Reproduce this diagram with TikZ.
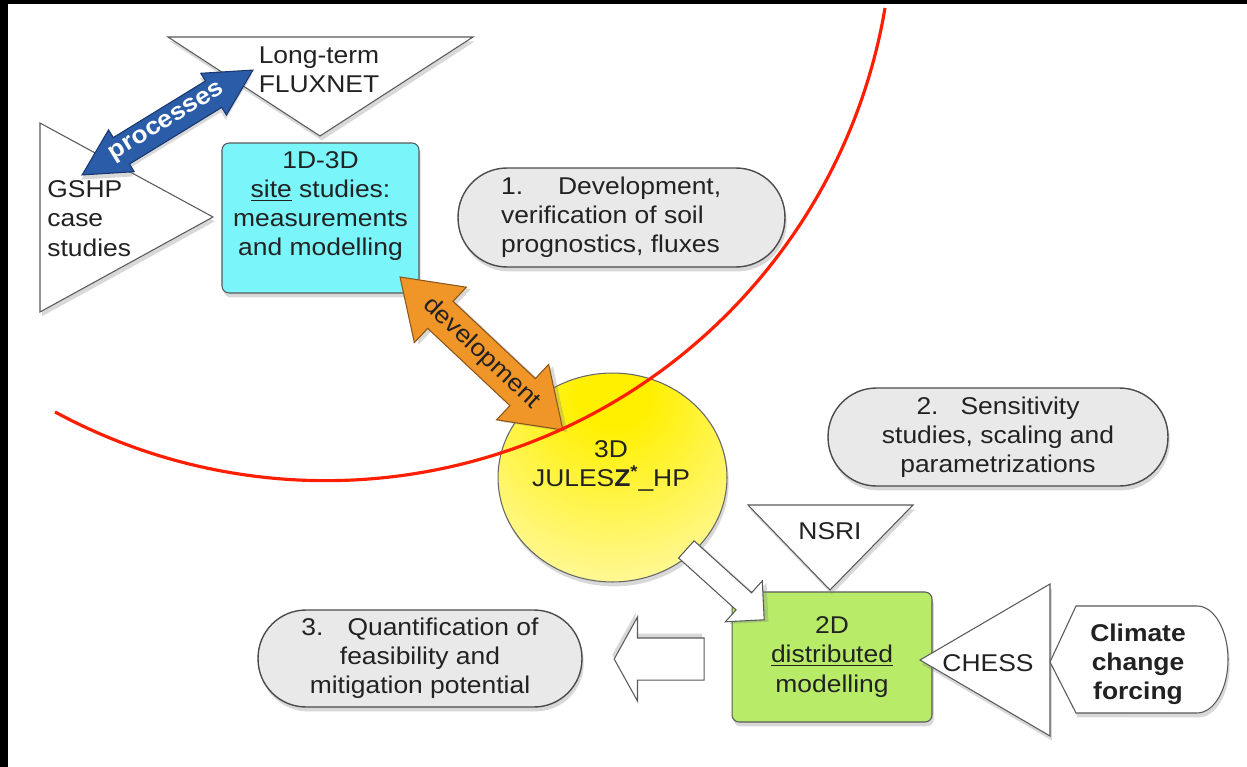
\documentclass[tikz,border=0pt]{standalone}
\usepackage{fontspec}
\setmainfont{Liberation Sans}[FakeStretch=1.09]
\usetikzlibrary{calc, shapes.geometric, shapes.arrows, shadows}
\definecolor{sitecyan}{RGB}{122,245,250}
\definecolor{distgreen}{RGB}{184,236,104}
\definecolor{pillgray}{RGB}{233,233,233}
\definecolor{devorange}{RGB}{240,150,40}
\definecolor{devedge}{RGB}{140,85,25}
\definecolor{procblue}{RGB}{42,92,168}
\definecolor{procedge}{RGB}{25,55,110}
\definecolor{arcred}{RGB}{255,30,0}
\definecolor{inktext}{RGB}{34,34,34}
\definecolor{julesin}{RGB}{255,240,0}
\definecolor{julesout}{RGB}{255,251,195}
\pgfdeclareradialshading{julesglow}{\pgfpoint{0bp}{22bp}}{color(0bp)=(julesin); color(8bp)=(julesin); color(48bp)=(julesout); color(100bp)=(julesout)}
\tikzset{
  txt/.style={text=inktext, font=\fontsize{13.8}{16.6}\selectfont, inner sep=0pt},
  softshadow/.style={drop shadow={shadow xshift=1pt, shadow yshift=-2.5pt, opacity=0.3}},
  tri/.style={draw=black!65, line width=0.6pt, fill=white, softshadow},
  box/.style={rectangle, draw=black!65, line width=0.6pt, rounded corners=4pt, softshadow},
  pill/.style={rectangle, draw=black!70, line width=0.8pt, fill=pillgray, align=center, txt, softshadow},
  blockarrow/.style={draw=black!65, line width=0.6pt, fill=white, inner xsep=0pt, text height=0pt, text depth=0pt, minimum width=0pt},
  procarrow/.style={double arrow, blockarrow, fill=procblue, draw=procedge, inner ysep=0.3cm, double arrow head extend=0.18cm, double arrow tip angle=56, minimum height=4.01cm, rotate=31.55, drop shadow={shadow xshift=-0.46pt, shadow yshift=-2.65pt, opacity=0.3}},
  devarrow/.style={double arrow, blockarrow, fill=devorange, draw=devedge, inner ysep=0.36cm, double arrow head extend=0.39cm, double arrow tip angle=69, minimum height=4.47cm, rotate=-43.2, drop shadow={shadow xshift=2.44pt, shadow yshift=-1.14pt, opacity=0.3}},
  feedarrow/.style={single arrow, blockarrow, inner ysep=0.22cm, single arrow head extend=0.32cm, single arrow tip angle=90, minimum height=2.1cm, rotate=-42.1, drop shadow={shadow xshift=2.42pt, shadow yshift=-1.18pt, opacity=0.3}},
  outarrow/.style={single arrow, blockarrow, inner ysep=0.41cm, single arrow head extend=0.42cm, single arrow tip angle=122, minimum height=1.8cm, rotate=180, drop shadow={shadow xshift=-1pt, shadow yshift=2.5pt, opacity=0.3}},
  arcline/.style={draw=arcred, line width=1.8pt}
}

\begin{document}
\begin{tikzpicture}[x=0.02cm, y=-0.02cm]
\useasboundingbox (0,0) rectangle (1247,767);
\fill[white] (0,0) rectangle (1247,767);
\fill[black] (0,0) rectangle (1247,4.5);
\fill[black] (0,0) rectangle (8,767);

% data sources round the site studies
\path[tri] (168,37) -- (473,37) -- (320,136) -- cycle;
\node[txt, align=center] (fluxtext) at (319,70) {Long-term\\FLUXNET};
\path[tri] (40,123) -- (213,217) -- (40,312) -- cycle;
\node[txt, align=left, anchor=west] (gshptext) at (47,218.5) {GSHP\\case\\studies};

\coordinate (proctail) at (82,175);
\coordinate (prochead) at (253,70);
\node[procarrow] (proc) at ($(proctail)!0.5!(prochead)$) {};
\node[txt, text=white, font=\fontsize{13.8}{16.6}\selectfont\bfseries, rotate=31.55] (proclabel) at (proc) {processes};

\node[box, fill=sitecyan, minimum width=3.94cm, minimum height=3cm] (site) at (320.5,218) {};
\node[txt, align=center] (sitetext) at (320.5,206) {1D-3D\\\underline{site} studies:\\measurements\\and modelling};

% the three stages
\node[pill, align=left, minimum width=6.54cm, minimum height=1.98cm, rounded corners=0.98cm] (stage1) at (621.5,217.5) {1.\hspace{0.7cm}Development,\\verification of soil\\prognostics, fluxes\hspace*{0.44cm}};
\node[pill, minimum width=6.8cm, minimum height=1.96cm, rounded corners=0.97cm] (stage2) at (998,437) {2.\hspace{0.44cm}Sensitivity\\studies, scaling and\\parametrizations};
\node[pill, minimum width=6.48cm, minimum height=1.94cm, rounded corners=0.96cm] (stage3) at (420,658.5) {3.\hspace{0.48cm}Quantification of\\feasibility and\\mitigation potential};

% distributed modelling and its inputs
\node[box, fill=distgreen, minimum width=4cm, minimum height=2.6cm, align=center, txt] (dist) at (832,657) {2D\\\underline{distributed}\\modelling};
\path[tri] (748,505) -- (913,505) -- (830,590) -- cycle;
\node[txt] (nsritext) at (830,531) {NSRI};
\path[tri] (1050,584) -- (920,660) -- (1050,736) -- cycle;
\node[txt] (chesstext) at (988,663) {CHESS};
\path[tri] (1050,662) -- (1076,606) -- (1197,606) arc[start angle=90, end angle=-90, x radius=0.62cm, y radius=1.07cm] -- (1076,713) -- cycle;
\node[txt, align=center, font=\fontsize{13.8}{16.6}\selectfont\bfseries] (climtext) at (1138,664) {Climate\\change\\forcing};

% model
\node[ellipse, draw=black!60, line width=0.6pt, shading=julesglow, minimum width=4.58cm, minimum height=4.18cm, softshadow] (jules) at (612.5,477.5) {};
\node[txt, align=center] (julestext) at (611,466) {3D\\JULES\textbf{Z}\textsuperscript{\textbf{*}}\_HP};

\coordinate (devtail) at (400,277);
\coordinate (devhead) at (563,430);
\node[devarrow] (devel) at ($(devtail)!0.5!(devhead)$) {};
\node[txt, rotate=-43.2] (devlabel) at (devel) {development};

\coordinate (feedtail) at (682,545.5);
\coordinate (feedhead) at (760,616);
\node[feedarrow] (feed) at ($(feedtail)!0.5!(feedhead)$) {};
\coordinate (outtail) at (710,659);
\coordinate (outhead) at (620,659);
\node[outarrow] (out) at ($(outtail)!0.5!(outhead)$) {};

\draw[arcline] (885,8) arc[start angle=-9.6, end angle=-118.5, radius=11.348cm];
\end{tikzpicture}
\end{document}
